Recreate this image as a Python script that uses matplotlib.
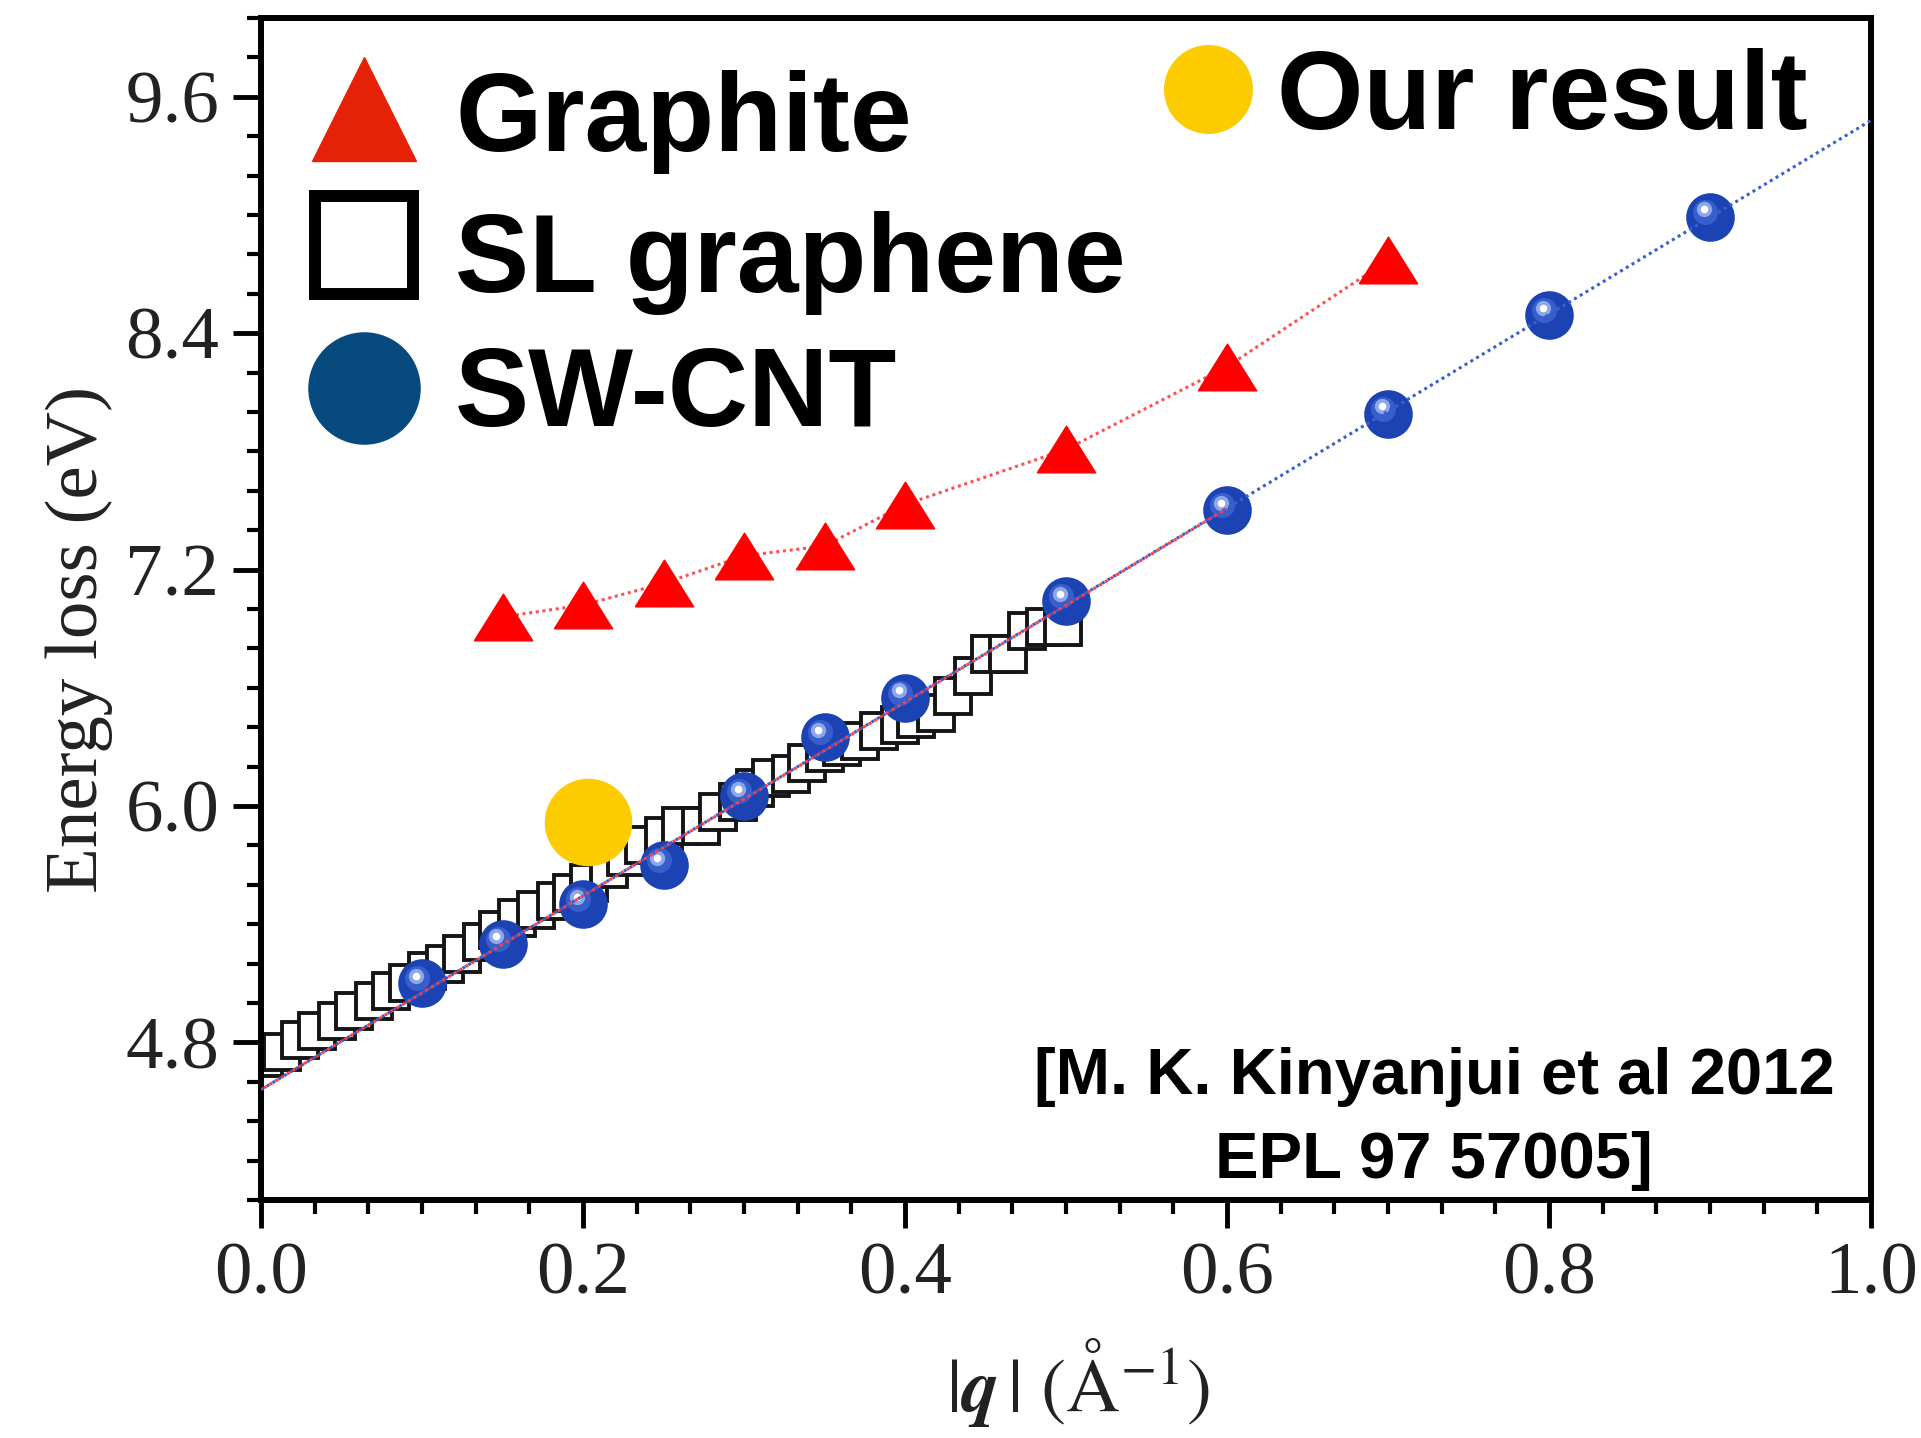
# Plasmon dispersion: energy loss vs momentum transfer
import matplotlib
matplotlib.use("Agg")
import matplotlib.pyplot as plt
from matplotlib.ticker import AutoMinorLocator, FormatStrFormatter
from matplotlib.transforms import ScaledTranslation

# Graphite (red triangles)
graphite_q = [0.15, 0.20, 0.25, 0.30, 0.35, 0.40, 0.50, 0.60, 0.70]
graphite_e = [6.96, 7.02, 7.13, 7.27, 7.32, 7.53, 7.81, 8.23, 8.77]

# SW-CNT (blue spheres)
cnt_q = [0.10, 0.15, 0.20, 0.25, 0.30, 0.35, 0.40, 0.50, 0.60, 0.70, 0.80, 0.90]
cnt_e = [5.10, 5.30, 5.50, 5.70, 6.05, 6.35, 6.55, 7.04, 7.50, 7.99, 8.49, 8.99]

# SL graphene (open squares)
sl_q = [0.002, 0.013, 0.024, 0.035, 0.047, 0.058, 0.070, 0.081, 0.091, 0.103,
        0.114, 0.125, 0.137, 0.147, 0.159, 0.171, 0.183, 0.193, 0.204, 0.216,
        0.227, 0.238, 0.250, 0.261, 0.273, 0.284, 0.296, 0.307, 0.317, 0.329,
        0.339, 0.350, 0.361, 0.372, 0.384, 0.397, 0.407, 0.419, 0.430, 0.442,
        0.453, 0.464, 0.476, 0.487, 0.498]
sl_e = [4.72, 4.75, 4.81, 4.86, 4.91, 4.96, 5.01, 5.06, 5.10, 5.16,
        5.20, 5.25, 5.31, 5.37, 5.43, 5.47, 5.52, 5.56, 5.61, 5.68,
        5.74, 5.80, 5.85, 5.90, 5.90, 5.97, 6.02, 6.09, 6.14, 6.16,
        6.22, 6.27, 6.30, 6.33, 6.38, 6.41, 6.44, 6.47, 6.56, 6.66,
        6.77, 6.77, 6.89, 6.91, 6.91]

# linear fits (dotted)
cnt_fit_q = [0.0, 1.0]
cnt_fit_e = [4.56, 9.48]
sl_fit_q = [0.0, 0.6]
sl_fit_e = [4.56, 7.51]

# our result
ours_q = [0.203]
ours_e = [5.92]

x_ticks = [0.0, 0.2, 0.4, 0.6, 0.8, 1.0]
y_ticks = [4.8, 6.0, 7.2, 8.4, 9.6]

RED = "#ff0000"
LEG_RED = "#e52207"
BLUE = "#1b43b3"
DARK_BLUE = "#074a7d"
YELLOW = "#fccb00"

SERIF = "Liberation Serif"
SANS = "Liberation Sans"


def main():
    plt.rcParams["mathtext.fontset"] = "stix"
    fig = plt.figure(figsize=(19.21, 14.38), dpi=100)
    ax = fig.add_axes([261 / 1921, 1 - 1200 / 1438, 1610 / 1921, 1182 / 1438])

    tri = [(-1, -0.8), (1, -0.8), (0, 0.8), (-1, -0.8)]

    # fits
    ax.plot(cnt_fit_q, cnt_fit_e, color="#3a5fd0", lw=2.2,
            linestyle=(0, (1, 1.2)), zorder=6)
    ax.plot(sl_fit_q, sl_fit_e, color="#ff4040", lw=2.2,
            linestyle=(1.1, (1, 1.2)), zorder=6)

    # graphite
    ax.plot(graphite_q, graphite_e, color="#ff5050", lw=2.2,
            linestyle=(0, (1, 1.2)), zorder=3)
    ax.plot(graphite_q, graphite_e, linestyle="none", marker=tri, ms=42,
            color=RED, mec=RED, zorder=4)

    # SL graphene
    ax.plot(sl_q, sl_e, linestyle="none", marker="s", ms=26.5, mfc="white",
            mec="#151515", mew=2.8, zorder=2)

    # SW-CNT spheres with a soft highlight
    ax.plot(cnt_q, cnt_e, linestyle="none", marker="o", ms=35, color=BLUE,
            mec="none", zorder=5)
    mid = ax.transData + ScaledTranslation(-0.05, 0.05, fig.dpi_scale_trans)
    ax.plot(cnt_q, cnt_e, linestyle="none", marker="o", ms=18,
            color="#4a72dc", mec="none", alpha=0.6, transform=mid, zorder=5)
    hi = ax.transData + ScaledTranslation(-0.065, 0.075, fig.dpi_scale_trans)
    ax.plot(cnt_q, cnt_e, linestyle="none", marker="o", ms=11,
            color="#c9d6ff", mec="none", alpha=0.6, transform=hi, zorder=5)
    ax.plot(cnt_q, cnt_e, linestyle="none", marker="o", ms=5.5,
            color="white", mec="none", transform=hi, zorder=5)

    # our result
    ax.plot(ours_q, ours_e, linestyle="none", marker="o", ms=63,
            color=YELLOW, mec="none", zorder=7)

    ax.set_xlim(0.0, 1.0)
    ax.set_ylim(4.0, 10.0)
    ax.set_xticks(x_ticks)
    ax.set_yticks(y_ticks)
    ax.xaxis.set_minor_locator(AutoMinorLocator(6))
    ax.yaxis.set_minor_locator(AutoMinorLocator(6))
    ax.xaxis.set_major_formatter(FormatStrFormatter("%.1f"))
    ax.yaxis.set_major_formatter(FormatStrFormatter("%.1f"))
    ax.tick_params(which="major", direction="out", length=20, width=3.5,
                   labelsize=54, pad=10, top=False, right=False)
    ax.tick_params(which="minor", direction="out", length=10, width=3,
                   top=False, right=False)
    for lab in ax.get_xticklabels() + ax.get_yticklabels():
        lab.set_fontfamily(SERIF)
        lab.set_color("#222222")
    for sp in ax.spines.values():
        sp.set_linewidth(4.3)

    ax.set_ylabel("Energy loss (eV)", fontsize=54, family=SERIF,
                  color="#222222")
    ax.yaxis.set_label_coords(-0.092, 0.474)
    ax.set_xlabel(r"$|\mathbfit{q}\,|\ (\mathrm{\AA}^{-1})$", fontsize=54,
                  color="#222222")
    ax.xaxis.set_label_coords(0.5075, -0.115)

    # legend drawn by hand
    ax.plot([0.064], [0.923], marker="^", ms=75, color=LEG_RED,
            linestyle="none", transform=ax.transAxes, clip_on=False)
    ax.plot([0.064], [0.808], marker="s", ms=71, mfc="white", mec="black",
            mew=8.6, linestyle="none", transform=ax.transAxes, clip_on=False)
    ax.plot([0.064], [0.687], marker="o", ms=80, color=DARK_BLUE,
            linestyle="none", transform=ax.transAxes, clip_on=False)
    ax.plot([0.588], [0.940], marker="o", ms=63, color=YELLOW,
            linestyle="none", transform=ax.transAxes, clip_on=False)

    leg_font = dict(family=SANS, weight="bold", fontsize=80, va="baseline",
                    ha="left", transform=ax.transAxes)
    ax.text(0.1205, 0.8875, "Graphite", **leg_font)
    ax.text(0.1205, 0.7686, "SL graphene", **leg_font)
    ax.text(0.1205, 0.6548, "SW-CNT", **leg_font)
    ax.text(0.631, 0.906, "Our result", **leg_font)

    cite_font = dict(family=SANS, weight="bold", fontsize=47, va="baseline",
                     ha="center", transform=ax.transAxes)
    ax.text(0.7286, 0.0897, "[M. K. Kinyanjui et al 2012", **cite_font)
    ax.text(0.7286, 0.0186, "EPL 97 57005]", **cite_font)

    fig.savefig("out.png", dpi=100)


if __name__ == "__main__":
    main()
